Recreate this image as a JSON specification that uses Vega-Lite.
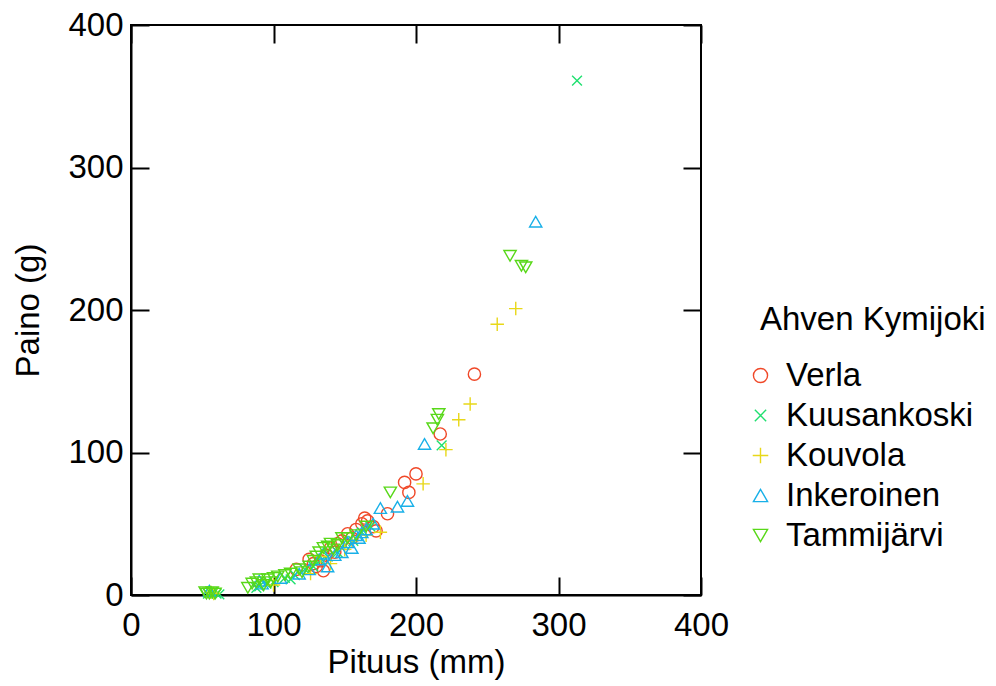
{
  "$schema": "https://vega.github.io/schema/vega-lite/v6.json",
  "autosize": {"type": "none"},
  "width": 570,
  "height": 570,
  "padding": {"left": 131, "top": 25, "right": 295, "bottom": 91},
  "background": "white",
  "config": {
    "font": "Liberation Sans",
    "view": {"stroke": "black", "strokeWidth": 2},
    "axis": {"labelFont": "Liberation Sans", "titleFont": "Liberation Sans", "labelFontSize": 33, "titleFontSize": 33, "titleFontWeight": "normal", "labelColor": "black", "titleColor": "black", "domainColor": "black", "domainWidth": 2, "tickColor": "black", "tickWidth": 2, "grid": false},
    "legend": {"labelFont": "Liberation Sans", "titleFont": "Liberation Sans"}
  },
  "data": {"values": [
    {"site": "Verla", "L": 116, "W": 18}, {"site": "Verla", "L": 125, "W": 25}, {"site": "Verla", "L": 128, "W": 22}, {"site": "Verla", "L": 130, "W": 20}, {"site": "Verla", "L": 133, "W": 24}, {"site": "Verla", "L": 135, "W": 17}, {"site": "Verla", "L": 137, "W": 28}, {"site": "Verla", "L": 140, "W": 33}, {"site": "Verla", "L": 143, "W": 30}, {"site": "Verla", "L": 145, "W": 36}, {"site": "Verla", "L": 148, "W": 38}, {"site": "Verla", "L": 152, "W": 43}, {"site": "Verla", "L": 155, "W": 40}, {"site": "Verla", "L": 158, "W": 46}, {"site": "Verla", "L": 162, "W": 50}, {"site": "Verla", "L": 164, "W": 54}, {"site": "Verla", "L": 166, "W": 52}, {"site": "Verla", "L": 170, "W": 48}, {"site": "Verla", "L": 172, "W": 45}, {"site": "Verla", "L": 180, "W": 57}, {"site": "Verla", "L": 192, "W": 79}, {"site": "Verla", "L": 195, "W": 72}, {"site": "Verla", "L": 200, "W": 85}, {"site": "Verla", "L": 217, "W": 113}, {"site": "Verla", "L": 241, "W": 155},
    {"site": "Kuusankoski", "L": 54, "W": 1}, {"site": "Kuusankoski", "L": 57, "W": 2}, {"site": "Kuusankoski", "L": 60, "W": 1}, {"site": "Kuusankoski", "L": 62, "W": 0.5}, {"site": "Kuusankoski", "L": 88, "W": 5}, {"site": "Kuusankoski", "L": 90, "W": 6}, {"site": "Kuusankoski", "L": 95, "W": 8}, {"site": "Kuusankoski", "L": 100, "W": 9}, {"site": "Kuusankoski", "L": 108, "W": 12}, {"site": "Kuusankoski", "L": 112, "W": 11}, {"site": "Kuusankoski", "L": 115, "W": 14}, {"site": "Kuusankoski", "L": 122, "W": 18}, {"site": "Kuusankoski", "L": 128, "W": 20}, {"site": "Kuusankoski", "L": 133, "W": 24}, {"site": "Kuusankoski", "L": 138, "W": 27}, {"site": "Kuusankoski", "L": 145, "W": 30}, {"site": "Kuusankoski", "L": 150, "W": 35}, {"site": "Kuusankoski", "L": 156, "W": 38}, {"site": "Kuusankoski", "L": 162, "W": 44}, {"site": "Kuusankoski", "L": 168, "W": 48}, {"site": "Kuusankoski", "L": 218, "W": 105}, {"site": "Kuusankoski", "L": 313, "W": 361},
    {"site": "Kouvola", "L": 56, "W": 2}, {"site": "Kouvola", "L": 58, "W": 1}, {"site": "Kouvola", "L": 100, "W": 7}, {"site": "Kouvola", "L": 126, "W": 15}, {"site": "Kouvola", "L": 133, "W": 27}, {"site": "Kouvola", "L": 140, "W": 22}, {"site": "Kouvola", "L": 150, "W": 32}, {"site": "Kouvola", "L": 155, "W": 38}, {"site": "Kouvola", "L": 165, "W": 42}, {"site": "Kouvola", "L": 175, "W": 44}, {"site": "Kouvola", "L": 205, "W": 78}, {"site": "Kouvola", "L": 221, "W": 102}, {"site": "Kouvola", "L": 230, "W": 123}, {"site": "Kouvola", "L": 238, "W": 134}, {"site": "Kouvola", "L": 257, "W": 190}, {"site": "Kouvola", "L": 270, "W": 201},
    {"site": "Inkeroinen", "L": 55, "W": 3}, {"site": "Inkeroinen", "L": 90, "W": 10}, {"site": "Inkeroinen", "L": 92, "W": 8}, {"site": "Inkeroinen", "L": 105, "W": 12}, {"site": "Inkeroinen", "L": 118, "W": 15}, {"site": "Inkeroinen", "L": 125, "W": 18}, {"site": "Inkeroinen", "L": 132, "W": 25}, {"site": "Inkeroinen", "L": 135, "W": 29}, {"site": "Inkeroinen", "L": 138, "W": 20}, {"site": "Inkeroinen", "L": 143, "W": 28}, {"site": "Inkeroinen", "L": 148, "W": 30}, {"site": "Inkeroinen", "L": 152, "W": 37}, {"site": "Inkeroinen", "L": 155, "W": 33}, {"site": "Inkeroinen", "L": 158, "W": 42}, {"site": "Inkeroinen", "L": 160, "W": 40}, {"site": "Inkeroinen", "L": 162, "W": 44}, {"site": "Inkeroinen", "L": 165, "W": 46}, {"site": "Inkeroinen", "L": 170, "W": 50}, {"site": "Inkeroinen", "L": 175, "W": 61}, {"site": "Inkeroinen", "L": 187, "W": 62}, {"site": "Inkeroinen", "L": 194, "W": 66}, {"site": "Inkeroinen", "L": 206, "W": 106}, {"site": "Inkeroinen", "L": 284, "W": 262},
    {"site": "Tammijärvi", "L": 52, "W": 2}, {"site": "Tammijärvi", "L": 53, "W": 1}, {"site": "Tammijärvi", "L": 55, "W": 1}, {"site": "Tammijärvi", "L": 57, "W": 2}, {"site": "Tammijärvi", "L": 59, "W": 1}, {"site": "Tammijärvi", "L": 82, "W": 5}, {"site": "Tammijärvi", "L": 85, "W": 8}, {"site": "Tammijärvi", "L": 88, "W": 9}, {"site": "Tammijärvi", "L": 90, "W": 11}, {"site": "Tammijärvi", "L": 93, "W": 7}, {"site": "Tammijärvi", "L": 96, "W": 11}, {"site": "Tammijärvi", "L": 98, "W": 9}, {"site": "Tammijärvi", "L": 100, "W": 12}, {"site": "Tammijärvi", "L": 103, "W": 13}, {"site": "Tammijärvi", "L": 108, "W": 14}, {"site": "Tammijärvi", "L": 112, "W": 15}, {"site": "Tammijärvi", "L": 118, "W": 18}, {"site": "Tammijärvi", "L": 120, "W": 16}, {"site": "Tammijärvi", "L": 125, "W": 20}, {"site": "Tammijärvi", "L": 128, "W": 24}, {"site": "Tammijärvi", "L": 130, "W": 27}, {"site": "Tammijärvi", "L": 132, "W": 30}, {"site": "Tammijärvi", "L": 135, "W": 33}, {"site": "Tammijärvi", "L": 138, "W": 34}, {"site": "Tammijärvi", "L": 140, "W": 36}, {"site": "Tammijärvi", "L": 142, "W": 32}, {"site": "Tammijärvi", "L": 145, "W": 35}, {"site": "Tammijärvi", "L": 148, "W": 40}, {"site": "Tammijärvi", "L": 152, "W": 40}, {"site": "Tammijärvi", "L": 158, "W": 42}, {"site": "Tammijärvi", "L": 165, "W": 48}, {"site": "Tammijärvi", "L": 182, "W": 72}, {"site": "Tammijärvi", "L": 212, "W": 117}, {"site": "Tammijärvi", "L": 215, "W": 123}, {"site": "Tammijärvi", "L": 216, "W": 127}, {"site": "Tammijärvi", "L": 266, "W": 238}, {"site": "Tammijärvi", "L": 274, "W": 231}, {"site": "Tammijärvi", "L": 277, "W": 230}
  ]},
  "layer": [
    {
      "mark": {"type": "point", "filled": false, "strokeWidth": 1.4, "size": 150, "opacity": 1},
      "encoding": {
        "x": {"field": "L", "type": "quantitative", "scale": {"domain": [0, 400], "nice": false},
              "axis": {"orient": "bottom", "values": [0, 100, 200, 300, 400], "title": "Pituus (mm)", "tickSize": -18, "labelPadding": 32, "titlePadding": 4, "labelFlush": false}},
        "y": {"field": "W", "type": "quantitative", "scale": {"domain": [0, 400], "nice": false},
              "axis": {"orient": "left", "values": [0, 100, 200, 300, 400], "title": "Paino (g)", "tickSize": -18, "labelPadding": 26, "titlePadding": 22, "labelFlush": false}},
        "color": {"field": "site", "type": "nominal",
                  "scale": {"domain": ["Verla", "Kuusankoski", "Kouvola", "Inkeroinen", "Tammijärvi"], "range": ["#f04828", "#20e070", "#e8d818", "#18b0e8", "#58d818"]},
                  "legend": {"title": "Ahven Kymijoki", "orient": "none", "legendX": 629, "legendY": 279, "titleFontSize": 33, "titleFontWeight": "normal", "titleColor": "black", "titlePadding": 22, "titleLimit": 0, "labelLimit": 0, "labelFontSize": 33, "labelColor": "black", "labelOffset": 9, "symbolOffset": -16, "rowPadding": 6, "symbolSize": 200, "symbolStrokeWidth": 1.4}},
        "shape": {"field": "site", "type": "nominal",
                  "scale": {"domain": ["Verla", "Kuusankoski", "Kouvola", "Inkeroinen", "Tammijärvi"], "range": ["circle", "M-0.8,-0.8L0.8,0.8M-0.8,0.8L0.8,-0.8", "M-1.1,0L1.1,0M0,-1.1L0,1.1", "triangle-up", "triangle-down"]}}
      }
    },
    {
      "mark": {"type": "point", "opacity": 0},
      "encoding": {
        "x": {"field": "L", "type": "quantitative", "scale": {"domain": [0, 400], "nice": false},
              "axis": {"orient": "top", "values": [0, 100, 200, 300, 400], "title": null, "labels": false, "tickSize": -18, "domain": false}},
        "y": {"field": "W", "type": "quantitative", "scale": {"domain": [0, 400], "nice": false},
              "axis": {"orient": "right", "values": [0, 100, 200, 300, 400], "title": null, "labels": false, "tickSize": -18, "domain": false}}
      }
    }
  ],
  "resolve": {"axis": {"x": "independent", "y": "independent"}}
}
